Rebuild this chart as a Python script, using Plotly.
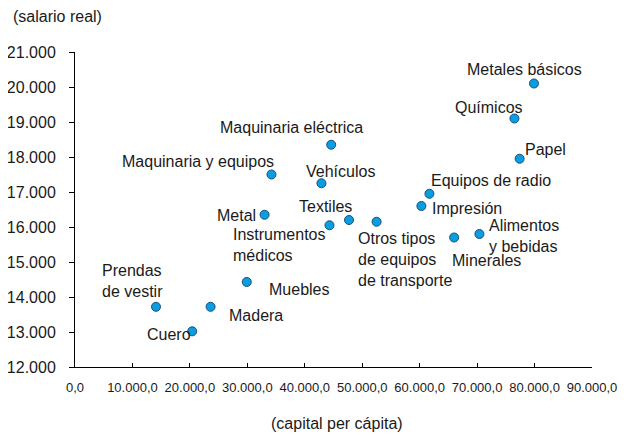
import plotly.graph_objects as go

# ---- data ----
sectors = [
    "Metales básicos", "Químicos", "Papel", "Maquinaria eléctrica", "Vehículos",
    "Equipos de radio", "Impresión", "Textiles", "Instrumentos<br>médicos",
    "Otros tipos<br>de equipos<br>de transporte", "Minerales", "Alimentos<br>y bebidas",
    "Metal", "Muebles", "Madera", "Cuero", "Prendas<br>de vestir", "Maquinaria y equipos",
]
capital_per_capita = [
    79900, 76500, 77400, 44600, 42900,
    61700, 60300, 47700, 44300,
    52500, 66000, 70400,
    33000, 29900, 23600, 20400, 14100, 34200,
]
salario_real = [
    20100, 19100, 17950, 18350, 17250,
    16950, 16600, 16200, 16050,
    16150, 15700, 15800,
    16350, 14430, 13720, 13020, 13720, 17500,
]
x_ticks = [0, 10000, 20000, 30000, 40000, 50000, 60000, 70000, 80000, 90000]
y_ticks = [12000, 13000, 14000, 15000, 16000, 17000, 18000, 19000, 20000, 21000]

# label placement (pixel offsets from point, anchor, alignment)
label_style = [
    (-9, 14, "center"), (-25, 11, "center"), (5, 9, "left"), (-40, 17, "center"), (-15, 12, "left"),
    (2, 13, "left"), (11, -2, "left"), (-24, 14, "center"), (-96, -20, "left"),
    (-19, -38, "left"), (-2, -23, "left"), (10, -2, "left"),
    (-9, -1, "right"), (22, -8, "left"), (18, -9, "left"), (-1, -3, "right"), (-54, 26, "left"),
    (-73, 13, "center"),
]

FONT = "Liberation Sans, Arial, sans-serif"
TXT = "#1a1a1a"
FS = 16

fig = go.Figure()
fig.add_trace(go.Scatter(
    x=capital_per_capita, y=salario_real, mode="markers",
    marker=dict(size=9, color="#0a9de0", line=dict(color="#1a4f7f", width=1)),
    hoverinfo="skip", showlegend=False,
))

for name, xv, yv, (dx, dy, anc) in zip(sectors, capital_per_capita, salario_real, label_style):
    fig.add_annotation(
        x=xv, y=yv, xref="x", yref="y", text=name, showarrow=False,
        xanchor=anc, yanchor="middle", align="left" if anc != "right" else "right",
        xshift=dx, yshift=dy, font=dict(family=FONT, size=FS, color=TXT),
        borderpad=0, borderwidth=0,
    )

fig.add_annotation(
    xref="paper", yref="paper", x=-(75.3 - 11) / 517.4, y=(367.3 - 17) / 315,
    xanchor="left", yanchor="middle", text="(salario real)", showarrow=False,
    font=dict(family=FONT, size=FS, color=TXT),
)
fig.add_annotation(
    xref="paper", yref="paper", x=(338 - 75.3) / 517.4, y=(367.3 - 424) / 315,
    xanchor="center", yanchor="middle", text="(capital per cápita)", showarrow=False,
    font=dict(family=FONT, size=FS, color=TXT),
)

# page body adds an 8px offset; the figure is sized so the plot lands where the reference has it
fig.update_layout(
    width=623, height=427,
    margin=dict(l=67, r=39, t=44, b=68),
    paper_bgcolor="white", plot_bgcolor="white",
    separators=",.",
    xaxis=dict(
        range=[0, 90000], tickvals=x_ticks, tickformat=",.1f", automargin=False,
        showgrid=False, zeroline=False, showline=True, linecolor="black", linewidth=1,
        ticks="inside", ticklen=4, tickcolor="black",
        tickfont=dict(family=FONT, size=13, color=TXT), ticklabelstandoff=8,
    ),
    yaxis=dict(
        range=[12000, 21000], tickvals=y_ticks, tickformat=",d", automargin=False,
        showgrid=False, zeroline=False, showline=True, linecolor="black", linewidth=1,
        ticks="outside", ticklen=5, tickcolor="black",
        tickfont=dict(family=FONT, size=FS, color=TXT), ticklabelstandoff=10,
    ),
)

fig.write_html("out.html")
